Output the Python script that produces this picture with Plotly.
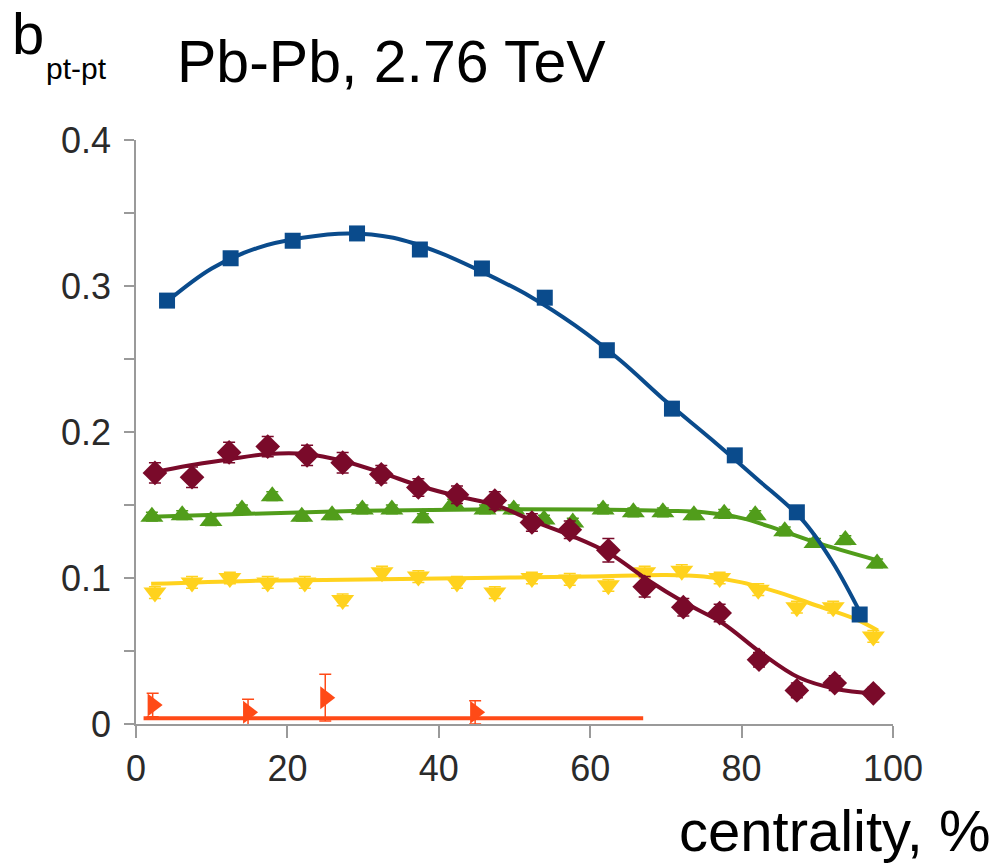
import plotly.graph_objects as go

# ---- data ----
blue_x = [4.1, 12.5, 20.7, 29.2, 37.5, 45.7, 54.0, 62.2, 70.8, 79.1, 87.3, 95.6]
blue_y = [0.290, 0.319, 0.331, 0.336, 0.325, 0.312, 0.292, 0.256, 0.216, 0.184, 0.145, 0.075]
blue_fit_x = [4, 10, 16, 22, 28, 34, 40, 46, 52, 58, 64, 70, 76, 82, 88, 92, 96]
blue_fit_y = [0.289, 0.312, 0.326, 0.333, 0.336, 0.333, 0.323, 0.309, 0.293, 0.273, 0.249, 0.221, 0.195, 0.168, 0.140, 0.111, 0.073]

maroon_x = [2.5, 7.4, 12.3, 17.4, 22.6, 27.3, 32.4, 37.3, 42.4, 47.4, 52.3, 57.3, 62.4, 67.2, 72.3, 77.1, 82.3, 87.3, 92.3, 97.4]
maroon_y = [0.172, 0.169, 0.186, 0.190, 0.184, 0.179, 0.171, 0.162, 0.157, 0.153, 0.138, 0.133, 0.119, 0.094, 0.080, 0.076, 0.044, 0.023, 0.028, 0.021]
maroon_err = [0.007, 0.007, 0.007, 0.007, 0.007, 0.007, 0.006, 0.006, 0.006, 0.006, 0.006, 0.006, 0.008, 0.007, 0.006, 0.006, 0.005, 0.005, 0.005, 0.004]
maroon_fit_x = [2, 7, 12, 17.5, 22.5, 27.5, 32.5, 37.5, 42.5, 47.5, 52.5, 57.5, 62.5, 67.5, 72.5, 77.5, 82.5, 87.5, 92.5, 97.5]
maroon_fit_y = [0.172, 0.177, 0.181, 0.185, 0.185, 0.180, 0.172, 0.163, 0.156, 0.150, 0.139, 0.129, 0.117, 0.099, 0.083, 0.069, 0.049, 0.032, 0.024, 0.021]

green_x = [2.1, 6.1, 9.9, 14.0, 18.0, 21.9, 25.9, 29.9, 33.8, 37.9, 41.9, 46.1, 49.9, 53.9, 57.7, 61.7, 65.7, 69.6, 73.7, 77.7, 81.8, 85.7, 89.7, 93.7, 97.9]
green_y = [0.142, 0.143, 0.139, 0.147, 0.156, 0.142, 0.143, 0.147, 0.147, 0.141, 0.151, 0.147, 0.147, 0.140, 0.138, 0.147, 0.145, 0.145, 0.143, 0.144, 0.143, 0.132, 0.124, 0.126, 0.110]
green_err = [0.003] * 25
green_fit_x = [2, 15, 30, 45, 60, 70, 75, 80, 85, 90, 98]
green_fit_y = [0.142, 0.144, 0.146, 0.147, 0.147, 0.146, 0.145, 0.141, 0.133, 0.124, 0.112]

yellow_x = [2.5, 7.4, 12.4, 17.4, 22.3, 27.3, 32.5, 37.3, 42.4, 47.4, 52.3, 57.3, 62.4, 67.2, 72.1, 77.1, 82.2, 87.3, 92.1, 97.4]
yellow_y = [0.090, 0.097, 0.100, 0.097, 0.097, 0.085, 0.104, 0.101, 0.097, 0.090, 0.100, 0.099, 0.095, 0.104, 0.105, 0.100, 0.092, 0.080, 0.080, 0.060]
yellow_err = [0.004] * 20
yellow_fit_x = [2, 15, 30, 45, 60, 70, 75, 80, 85, 90, 95, 98]
yellow_fit_y = [0.096, 0.098, 0.099, 0.100, 0.101, 0.102, 0.101, 0.097, 0.090, 0.081, 0.072, 0.064]

red_x = [2.2, 14.8, 25.0, 44.8, 64.9]
red_y = [0.013, 0.008, 0.018, 0.008, -0.0075]
red_err = [0.008, 0.009, 0.016, 0.008, 0.004]
red_fit_x = [1, 67]
red_fit_y = [0.004, 0.004]

y_ticks = [0, 0.1, 0.2, 0.3, 0.4]
y_tick_text = ["0", "0.1", "0.2", "0.3", "0.4"]
y_minor = [0.05, 0.15, 0.25, 0.35]
x_ticks = [0, 20, 40, 60, 80, 100]

C_BLUE = "#0a4b8c"
C_MAROON = "#7a0a2a"
C_GREEN = "#519d1b"
C_YELLOW = "#ffd21e"
C_RED = "#ff4a17"

fig = go.Figure()

def fit(x, y, c, shape="spline"):
    fig.add_trace(go.Scatter(x=x, y=y, mode="lines", line=dict(color=c, width=4, shape=shape, smoothing=1.0),
                             showlegend=False, hoverinfo="skip", cliponaxis=False))

def pts(x, y, c, sym, size, err=None):
    ey = dict(type="data", array=err, color=c, thickness=1.5, width=6) if err else None
    fig.add_trace(go.Scatter(x=x, y=y, mode="markers", marker=dict(symbol=sym, size=size, color=c),
                             error_y=ey, showlegend=False, cliponaxis=False))

fit(red_fit_x, red_fit_y, C_RED, "linear")
pts(red_x, red_y, C_RED, "triangle-right", 20, red_err)

fit(yellow_fit_x, yellow_fit_y, C_YELLOW)
pts(yellow_x, yellow_y, C_YELLOW, "triangle-down", 20, yellow_err)

fit(green_fit_x, green_fit_y, C_GREEN)
pts(green_x, green_y, C_GREEN, "triangle-up", 20, green_err)

fit(maroon_fit_x, maroon_fit_y, C_MAROON)
pts(maroon_x, maroon_y, C_MAROON, "diamond", 19, maroon_err)

fit(blue_fit_x, blue_fit_y, C_BLUE)
pts(blue_x, blue_y, C_BLUE, "square", 16)

font = "Liberation Sans, Arial, sans-serif"
axcol = "#9a9a9a"
tickfont = dict(size=36, family=font, color="#2a2a2a")

fig.update_layout(
    width=994, height=864,
    margin=dict(l=136, r=101, t=140, b=140),
    paper_bgcolor="white", plot_bgcolor="white",
    font=dict(family=font, color="#222222"),
    xaxis=dict(range=[0, 100], tickvals=x_ticks, showgrid=False, zeroline=False,
               showline=True, linecolor=axcol, linewidth=1.5,
               ticks="outside", ticklen=12, tickcolor=axcol, tickwidth=1.5,
               tickfont=tickfont),
    yaxis=dict(range=[0, 0.4], tickvals=y_ticks, ticktext=y_tick_text, showgrid=False, zeroline=False,
               showline=True, linecolor=axcol, linewidth=1.5,
               ticks="outside", ticklen=10, tickcolor=axcol, tickwidth=1.5,
               ticklabelstandoff=6,
               minor=dict(tickvals=y_minor, ticks="outside", ticklen=10, tickcolor=axcol, tickwidth=1.5),
               tickfont=tickfont),
)

W, H = 757.0, 584.0
def px(xp):
    return (xp - 136) / W
def py(yp):
    return (724 - yp) / H

fig.add_annotation(text="b", xref="paper", yref="paper", x=px(11), y=py(0), xanchor="left", yanchor="top",
                   borderpad=0, showarrow=False, font=dict(size=58, family=font, color="black"))
fig.add_annotation(text="pt-pt", xref="paper", yref="paper", x=px(44), y=py(69), xanchor="left", yanchor="middle",
                   showarrow=False, font=dict(size=30, family=font, color="black"))
fig.add_annotation(text="Pb-Pb, 2.76 TeV", xref="paper", yref="paper", x=px(175), y=py(62), xanchor="left", yanchor="middle",
                   showarrow=False, font=dict(size=59, family=font, color="black"))
fig.add_annotation(text="centrality, %", xref="paper", yref="paper", x=px(993), y=py(830), xanchor="right", yanchor="middle",
                   showarrow=False, font=dict(size=58, family=font, color="black"))

fig.write_html("out.html")
